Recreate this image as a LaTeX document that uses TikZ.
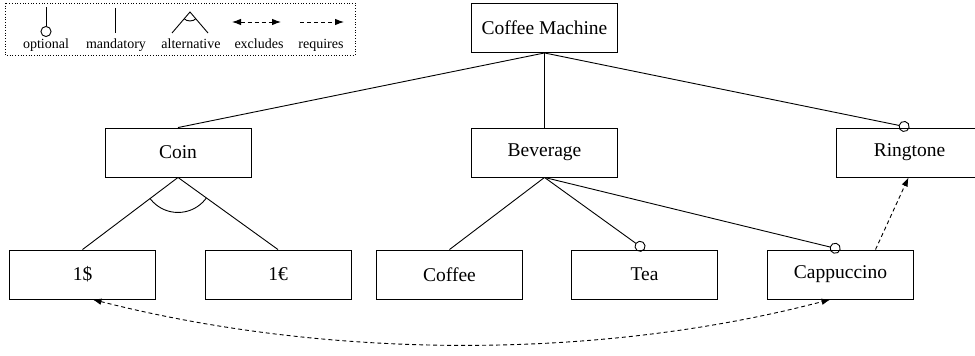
\documentclass[tikz,border=0pt]{standalone}
\usepackage{fontspec}
\setmainfont{Liberation Serif}
\usetikzlibrary{arrows.meta}

\tikzset{
  feat/.style={draw, minimum width=146pt, minimum height=49pt, inner sep=0pt,
    font=\fontsize{19.5}{22}\selectfont},
  optl/.style={-{Circle[open,length=11pt]}},
  excl/.style={dash pattern=on 4pt off 3pt,
    {Latex[length=9pt,width=6.5pt]}-{Latex[length=9pt,width=6.5pt]}},
  reqs/.style={dash pattern=on 4pt off 3pt, -{Latex[length=9pt,width=6.5pt]}},
  legtxt/.style={font=\fontsize{14}{16}\selectfont, anchor=base, inner sep=0pt},
}

\begin{document}
\begin{tikzpicture}[x=1pt,y=-1pt,line width=0.9pt]

      \useasboundingbox (0,0) rectangle (975,356);

      % legend
      \draw[dotted, line width=0.7pt] (5,3) rectangle (355,55);
      \coordinate (o1) at (46,7);
      \coordinate (o2) at (46,37);
      \coordinate (m1) at (115,8);
      \coordinate (m2) at (115,33);
      \coordinate (a0) at (190,12);
      \coordinate (a1) at (172,33);
      \coordinate (a2) at (208,33);
      \coordinate (e1) at (232,22);
      \coordinate (e2) at (281,22);
      \coordinate (r1) at (300,22);
      \coordinate (r2) at (344,22);
      \draw[optl] (o1) -- (o2);
      \draw (m1) -- (m2);
      \draw (a1) -- (a0) -- (a2);
      \begin{scope}
        \clip (a0) -- (a1) -- (a2) -- cycle;
        \draw (a0) circle[radius=9pt];
      \end{scope}
      \draw[excl] (e1) -- (e2);
      \draw[reqs] (r1) -- (r2);
      \node[legtxt] (lopt) at (46,48)  {optional};
      \node[legtxt] (lman) at (116,48) {mandatory};
      \node[legtxt] (lalt) at (191,48) {alternative};
      \node[legtxt] (lexc) at (259,48) {excludes};
      \node[legtxt] (lreq) at (321,48) {requires};

      % features
      \begin{scope}[every node/.style={feat}]
        \node (cm)   at (544.5,28)    {Coffee Machine};
        \node (coin) at (178,152.5)   {Coin};
        \node (bev)  at (544.5,152.5) {Beverage};
        \node (ring) at (909.5,152.5) {Ringtone};
        \node (usd)  at (82.5,274.5)  {1\$};
        \node (eur)  at (278,274.5)   {1€};
        \node (cof)  at (449.5,274.5) {Coffee};
        \node (tea)  at (644.5,274.5) {Tea};
        \node (cap)  at (840.5,274.5) {Cappuccino};
      \end{scope}

      \begin{scope}[every edge/.style={draw}]
        \path (cm.south)   edge (coin.north);
        \path (cm.south)   edge (bev.north);
        \path (cm.south)   edge[optl] (ring.north);
        \path (coin.south) edge (usd.north);
        \path (coin.south) edge (eur.north);
        \path (bev.south)  edge (cof.north);
        \path (bev.south)  edge[optl] (tea.north);
        \path (bev.south)  edge[optl] (cap.north);
      \end{scope}

      % alternative group
      \begin{scope}
        \clip (coin.south) -- (usd.north) -- (eur.north) -- cycle;
        \draw (coin.south) circle[radius=35pt];
      \end{scope}

      % cross-tree constraints
      \draw[reqs] ([xshift=35pt]cap.north) -- ([xshift=-1pt]ring.south);
      \draw[excl] ([xshift=10pt]usd.south)
        .. controls (330,360) and (600,360) .. ([xshift=-10pt]cap.south);

    \end{tikzpicture}
\end{document}
